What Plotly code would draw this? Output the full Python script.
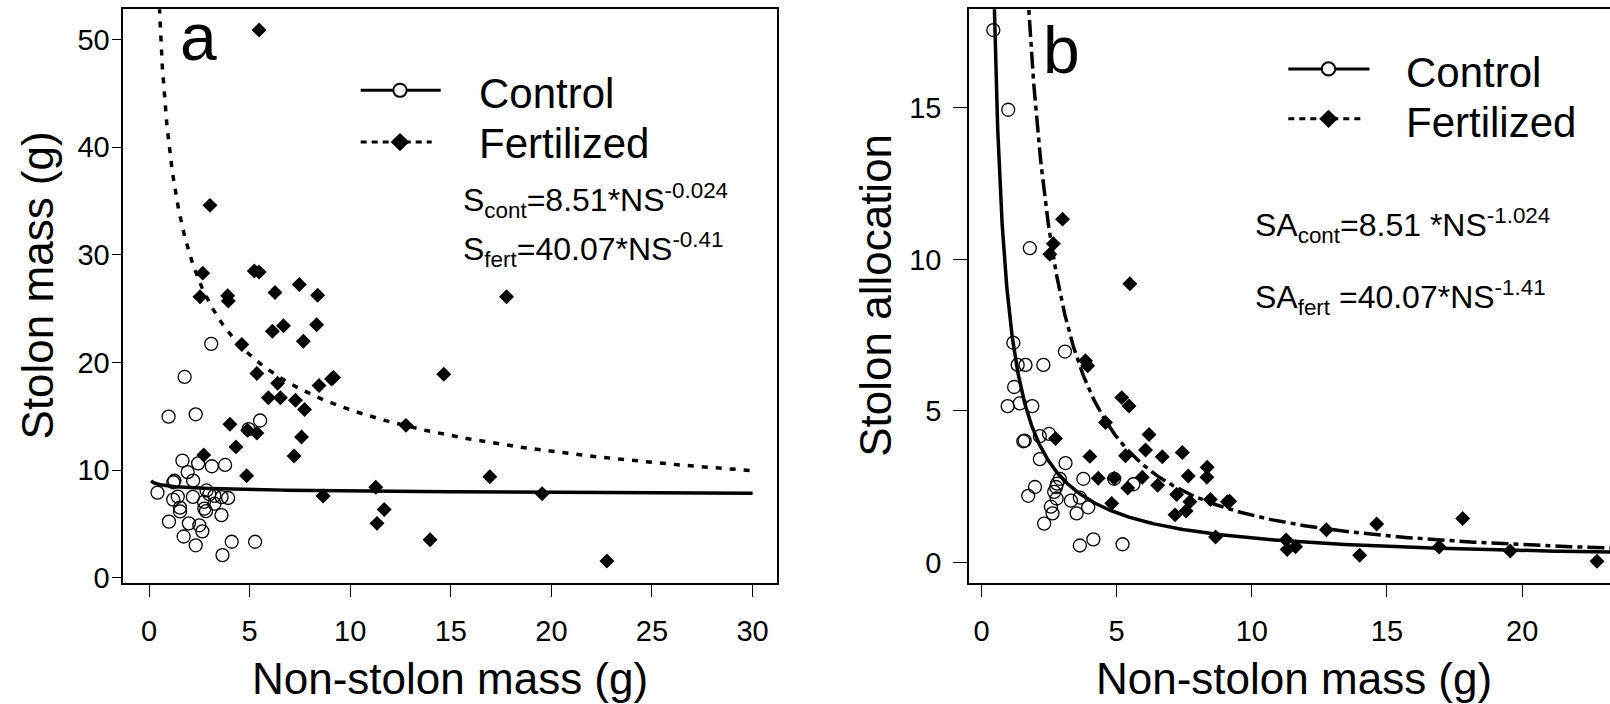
import numpy as np
import plotly.graph_objects as go

# ---------------- data ----------------
# Panel a: stolon mass vs non-stolon mass
ns_ctrl_a = [3.09, 1.77, 0.97, 2.32, 5.52, 4.95, 1.66, 2.44, 3.12, 3.78, 1.92, 2.19, 1.26,
             1.21, 0.42, 1.20, 1.43, 2.18, 2.86, 3.00, 3.25, 3.61, 3.93, 2.73, 3.25, 1.54,
             1.54, 2.75, 2.83, 3.60, 0.99, 1.98, 2.50, 2.65, 1.72, 2.32, 4.11, 5.27, 3.65]
s_ctrl_a = [21.73, 18.65, 14.96, 15.18, 14.60, 13.80, 10.87, 10.62, 10.35, 10.47, 9.80, 9.01, 9.00,
            8.86, 7.90, 7.25, 7.53, 7.50, 8.10, 7.75, 7.60, 7.48, 7.40, 7.03, 6.87, 6.50,
            6.15, 6.41, 6.17, 5.81, 5.20, 5.04, 4.86, 4.30, 3.82, 3.00, 3.33, 3.33, 2.09]

ns_fert_a = [5.47, 3.03, 2.67, 5.23, 5.47, 2.53, 3.91, 3.94, 7.47, 6.26, 8.38, 6.68, 6.13, 8.33,
             7.67, 4.61, 14.65, 17.77, 5.36, 6.39, 8.45, 9.07, 9.17, 5.93, 6.53, 7.28, 7.73,
             4.02, 5.36, 7.58, 12.77, 4.32, 7.21, 2.72, 4.85, 16.94, 8.65, 11.27, 19.54,
             11.69, 11.33, 13.97, 22.76, 4.90]
s_fert_a = [50.9, 34.6, 28.3, 28.5, 28.4, 26.1, 26.2, 25.7, 27.25, 26.5, 26.24, 23.4, 22.9, 23.5,
            21.97, 21.66, 18.9, 26.1, 18.98, 18.07, 17.85, 18.46, 18.6, 16.72, 16.72, 16.48, 15.63,
            14.25, 13.43, 13.07, 14.15, 12.15, 11.3, 11.39, 9.47, 9.38, 7.58, 8.4, 7.8,
            6.32, 5.04, 3.52, 1.54, 13.7]

# Panel b: stolon allocation vs non-stolon mass
ns_ctrl_b = [0.44, 0.99, 1.79, 1.18, 3.09, 1.34, 1.63, 2.29, 1.21, 0.97, 1.42, 1.88, 2.16, 2.50,
             1.55, 1.60, 2.16, 3.11, 3.77, 2.90, 1.98, 2.76, 2.80, 1.73, 2.69, 2.78, 2.57, 3.31,
             3.64, 3.95, 3.52, 2.63, 2.32, 4.91, 5.62, 3.64, 4.14, 5.22]
sa_ctrl_b = [17.57, 14.94, 10.37, 7.25, 6.96, 6.52, 6.52, 6.52, 5.79, 5.16, 5.25, 5.16, 4.17, 4.24,
             4.00, 4.02, 3.41, 3.28, 2.76, 2.76, 2.49, 2.49, 2.60, 2.20, 2.33, 2.11, 1.84, 2.04,
             2.14, 1.82, 1.62, 1.62, 1.28, 2.76, 2.58, 0.56, 0.76, 0.60]

ns_fert_b = [3.00, 2.66, 2.53, 5.49, 3.85, 3.93, 5.19, 5.46, 4.59, 6.20, 2.74, 4.01, 6.07, 6.69,
             7.43, 5.33, 8.35, 4.32, 4.91, 5.95, 7.65, 8.34, 5.41, 6.52, 7.22, 8.47, 9.10, 9.18,
             7.71, 4.82, 7.57, 7.16, 8.66, 11.27, 11.31, 11.62, 12.76, 13.99, 14.62, 16.93,
             17.80, 19.56, 22.77]
sa_fert_b = [11.33, 10.52, 10.17, 9.20, 6.66, 6.49, 5.44, 5.16, 4.62, 4.22, 4.09, 3.50, 3.71, 3.49,
             3.63, 3.52, 3.14, 2.78, 2.78, 2.81, 2.85, 2.81, 2.46, 2.55, 2.24, 2.08, 2.00, 2.02,
             2.00, 1.95, 1.70, 1.57, 0.84, 0.74, 0.43, 0.52, 1.08, 0.24, 1.27, 0.51,
             1.45, 0.38, 0.04]

# fitted power models printed on the chart: y = coef * NS ** expo
fit_a_ctrl = (8.51, -0.024)
fit_a_fert = (40.07, -0.41)
fit_b_ctrl = (8.51, -1.024)
fit_b_fert = (40.07, -1.41)

xticks_a = [0, 5, 10, 15, 20, 25, 30]
yticks_a = [0, 10, 20, 30, 40, 50]
xticks_b = [0, 5, 10, 15, 20]
yticks_b = [0, 5, 10, 15]

# ---------------- helpers ----------------
W, H = 1610, 704
FONT = "Liberation Sans, Arial, sans-serif"


def px(x):
    return x / W


def py(y):
    return 1 - y / H


def curve(fit, x0, x1):
    xs = np.geomspace(x0, x1, 400)
    return xs, fit[0] * xs ** fit[1]


fig = go.Figure()

circ = dict(symbol="circle-open", size=13, color="black", line=dict(width=1.3, color="black"))
diam = dict(symbol="diamond", size=11.5, color="black", line=dict(width=0))

# panel a
fig.add_trace(go.Scatter(x=ns_ctrl_a, y=s_ctrl_a, mode="markers", marker=circ,
                         xaxis="x", yaxis="y", showlegend=False))
fig.add_trace(go.Scatter(x=ns_fert_a, y=s_fert_a, mode="markers", marker=diam,
                         xaxis="x", yaxis="y", showlegend=False))
cx, cy = curve(fit_a_ctrl, 0.1, 30)
fig.add_trace(go.Scatter(x=cx, y=cy, mode="lines", line=dict(color="black", width=3.5),
                         xaxis="x", yaxis="y", showlegend=False))
cx, cy = curve(fit_a_fert, 0.45, 30)
fig.add_trace(go.Scatter(x=cx, y=cy, mode="lines",
                         line=dict(color="black", width=3.5, dash="6px,8px"),
                         xaxis="x", yaxis="y", showlegend=False))

# panel b
fig.add_trace(go.Scatter(x=ns_ctrl_b, y=sa_ctrl_b, mode="markers", marker=circ,
                         xaxis="x2", yaxis="y2", showlegend=False))
fig.add_trace(go.Scatter(x=ns_fert_b, y=sa_fert_b, mode="markers", marker=diam,
                         xaxis="x2", yaxis="y2", showlegend=False))
cx, cy = curve(fit_b_ctrl, 0.45, 26)
fig.add_trace(go.Scatter(x=cx, y=cy, mode="lines", line=dict(color="black", width=3.5),
                         xaxis="x2", yaxis="y2", showlegend=False))
cx, cy = curve(fit_b_fert, 1.7, 26)
fig.add_trace(go.Scatter(x=cx, y=cy, mode="lines",
                         line=dict(color="black", width=3.5, dash="17px,5px,5px,5px"),
                         xaxis="x2", yaxis="y2", showlegend=False))

ydom = [py(592), py(9.3)]
tickfont = dict(family=FONT, size=29, color="black")
axcommon = dict(showline=True, linecolor="black", linewidth=1.5, ticks="outside",
                tickcolor="black", tickwidth=1.3, showgrid=False, zeroline=False,
                tickfont=tickfont)

fig.update_layout(
    width=W, height=H,
    margin=dict(l=0, r=0, t=0, b=0),
    paper_bgcolor="white", plot_bgcolor="white",
    showlegend=False,
    xaxis=dict(domain=[px(123.3), px(776.7)], range=[-1.28, 31.2], anchor="y",
               tickvals=xticks_a, ticklen=12, mirror=True, ticklabelstandoff=10, **axcommon),
    yaxis=dict(domain=ydom, range=[-0.48, 52.84], anchor="x",
               tickvals=yticks_a, ticklen=10, mirror=True, ticklabelstandoff=-4, **axcommon),
    xaxis2=dict(domain=[px(969), 1.0], range=[-0.46, 23.25], anchor="y2",
                tickvals=xticks_b, ticklen=12, mirror=True, ticklabelstandoff=10, **axcommon),
    yaxis2=dict(domain=ydom, range=[-0.67, 18.26], anchor="x2",
                tickvals=yticks_b, ticklen=14, mirror=False, ticklabelstandoff=6, **axcommon),
)

ann = []


def text(x, y, s, size, xanchor="left", angle=0):
    ann.append(dict(xref="paper", yref="paper", x=px(x), y=py(y), text=s, showarrow=False,
                    xanchor=xanchor, yanchor="middle", textangle=angle,
                    font=dict(family=FONT, size=size, color="black")))


# panel labels
text(178, 38, "a", 66)
text(1041, 51, "b", 66)
# legends text
text(477, 95, "Control", 42)
text(477, 145.3, "Fertilized", 42)
text(1404, 73.7, "Control", 42)
text(1404, 124, "Fertilized", 42)
# equations
text(461, 204, "S<sub>cont</sub>=8.51*NS<sup>-0.024</sup>", 32)
text(461, 253, "S<sub>fert</sub>=40.07*NS<sup>-0.41</sup>", 32)
text(1253, 229, "SA<sub>cont</sub>=8.51 *NS<sup>-1.024</sup>", 32)
text(1253, 302, "SA<sub>fert</sub> =40.07*NS<sup>-1.41</sup>", 32)
# axis titles
text(450, 689, "Non-stolon mass (g)", 44, xanchor="center")
text(1294, 689, "Non-stolon mass (g)", 44, xanchor="center")
text(37, 290, "Stolon mass (g)", 44, xanchor="center", angle=-90)
text(876, 300.5, "Stolon allocation", 44, xanchor="center", angle=-90)
fig.update_layout(annotations=ann)

# legend glyphs (layout decoration in paper coordinates)
shapes = []


def hline(x0, x1, y, dash=None, width=3):
    line = dict(color="black", width=width)
    if dash:
        line["dash"] = dash
    shapes.append(dict(type="line", xref="paper", yref="paper", x0=px(x0), x1=px(x1),
                       y0=py(y), y1=py(y), line=line))


def circle(x, y, r):
    shapes.append(dict(type="circle", xref="paper", yref="paper", x0=px(x - r), x1=px(x + r),
                       y0=py(y + r), y1=py(y - r), fillcolor="white",
                       line=dict(color="black", width=2)))


def diamond(x, y, r):
    path = (f"M {px(x - r)},{py(y)} L {px(x)},{py(y - r)} L {px(x + r)},{py(y)} "
            f"L {px(x)},{py(y + r)} Z")
    shapes.append(dict(type="path", xref="paper", yref="paper", path=path,
                       fillcolor="black", line=dict(color="black", width=0)))


for (lx0, lx1, ly_c, ly_f, mx) in [(360.7, 440.7, 91.7, 144.3, 400),
                                    (1288.3, 1369.5, 70, 120.7, 1328.5)]:
    hline(lx0, lx1, ly_c)
    circle(mx, ly_c, 6.7)
    hline(lx0, lx1 - 9, ly_f, dash="6px,5px")
    diamond(mx, ly_f, 9.3)

fig.update_layout(shapes=shapes)

fig.write_html("out.html",
               config={"displayModeBar": False},
               post_script="document.body.style.margin='0';document.body.style.padding='0';"
                           "document.body.style.overflow='hidden';")
